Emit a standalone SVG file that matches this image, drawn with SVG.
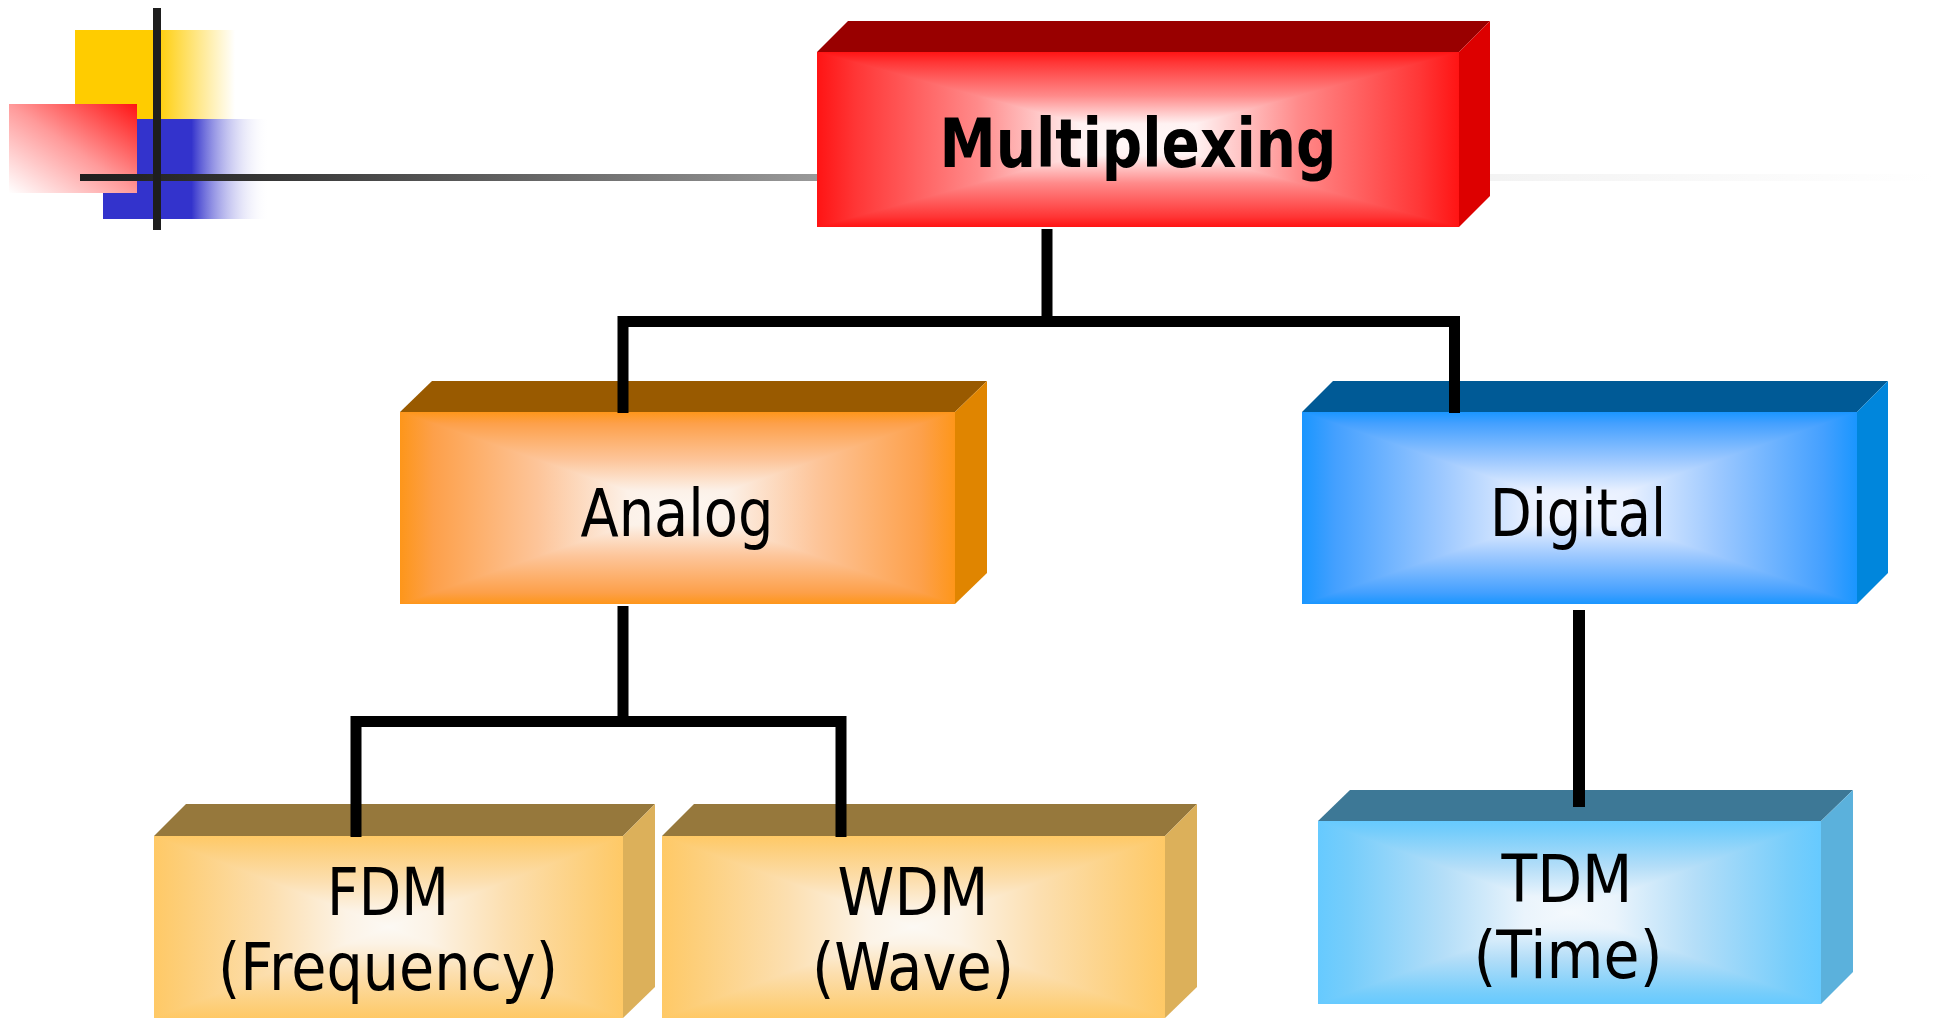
<svg xmlns="http://www.w3.org/2000/svg" xmlns:xlink="http://www.w3.org/1999/xlink" width="1935" height="1024" viewBox="0 0 1935 1024">
<style>
.lbl{font-family:"DejaVu Sans","Verdana",sans-serif;font-size:65px;fill:#000;text-anchor:middle}
.bold{font-weight:bold;font-size:68px}
.con{fill:none;stroke:#000;stroke-width:11;stroke-linejoin:miter;stroke-linecap:butt}
.tri{shape-rendering:crispEdges}
</style>
<defs>
<linearGradient id="gRed"><stop offset="0" stop-color="#FF1414"/><stop offset="0.12" stop-color="#FF3636"/><stop offset="0.5" stop-color="#FF8A8A"/><stop offset="0.82" stop-color="#FFF2F2"/><stop offset="1" stop-color="#FFF8F8"/></linearGradient>
<linearGradient id="gOra"><stop offset="0" stop-color="#FE961A"/><stop offset="0.12" stop-color="#FDA04A"/><stop offset="0.5" stop-color="#FDC59A"/><stop offset="0.82" stop-color="#FCF1E8"/><stop offset="1" stop-color="#FDF7F2"/></linearGradient>
<linearGradient id="gBlu"><stop offset="0" stop-color="#1A96FF"/><stop offset="0.12" stop-color="#44A0FF"/><stop offset="0.5" stop-color="#9CC8FF"/><stop offset="0.82" stop-color="#E8F0FF"/><stop offset="1" stop-color="#F2F6FF"/></linearGradient>
<linearGradient id="gYel"><stop offset="0" stop-color="#FFC966"/><stop offset="0.12" stop-color="#FDCE78"/><stop offset="0.5" stop-color="#FCDFB0"/><stop offset="0.82" stop-color="#FCF3E6"/><stop offset="1" stop-color="#FCF9F4"/></linearGradient>
<linearGradient id="gLbl"><stop offset="0" stop-color="#66CAFF"/><stop offset="0.12" stop-color="#76CDFB"/><stop offset="0.5" stop-color="#B4DEF8"/><stop offset="0.82" stop-color="#EAF4FC"/><stop offset="1" stop-color="#F4F9FD"/></linearGradient>

<linearGradient id="gRed-t" href="#gRed" xlink:href="#gRed" x1="0" y1="0" x2="0" y2="1"/>
<linearGradient id="gRed-b" href="#gRed" xlink:href="#gRed" x1="0" y1="1" x2="0" y2="0"/>
<linearGradient id="gRed-l" href="#gRed" xlink:href="#gRed" x1="0" y1="0" x2="1" y2="0"/>
<linearGradient id="gRed-r" href="#gRed" xlink:href="#gRed" x1="1" y1="0" x2="0" y2="0"/>
<linearGradient id="gOra-t" href="#gOra" xlink:href="#gOra" x1="0" y1="0" x2="0" y2="1"/>
<linearGradient id="gOra-b" href="#gOra" xlink:href="#gOra" x1="0" y1="1" x2="0" y2="0"/>
<linearGradient id="gOra-l" href="#gOra" xlink:href="#gOra" x1="0" y1="0" x2="1" y2="0"/>
<linearGradient id="gOra-r" href="#gOra" xlink:href="#gOra" x1="1" y1="0" x2="0" y2="0"/>
<linearGradient id="gBlu-t" href="#gBlu" xlink:href="#gBlu" x1="0" y1="0" x2="0" y2="1"/>
<linearGradient id="gBlu-b" href="#gBlu" xlink:href="#gBlu" x1="0" y1="1" x2="0" y2="0"/>
<linearGradient id="gBlu-l" href="#gBlu" xlink:href="#gBlu" x1="0" y1="0" x2="1" y2="0"/>
<linearGradient id="gBlu-r" href="#gBlu" xlink:href="#gBlu" x1="1" y1="0" x2="0" y2="0"/>
<linearGradient id="gYel-t" href="#gYel" xlink:href="#gYel" x1="0" y1="0" x2="0" y2="1"/>
<linearGradient id="gYel-b" href="#gYel" xlink:href="#gYel" x1="0" y1="1" x2="0" y2="0"/>
<linearGradient id="gYel-l" href="#gYel" xlink:href="#gYel" x1="0" y1="0" x2="1" y2="0"/>
<linearGradient id="gYel-r" href="#gYel" xlink:href="#gYel" x1="1" y1="0" x2="0" y2="0"/>
<linearGradient id="gLbl-t" href="#gLbl" xlink:href="#gLbl" x1="0" y1="0" x2="0" y2="1"/>
<linearGradient id="gLbl-b" href="#gLbl" xlink:href="#gLbl" x1="0" y1="1" x2="0" y2="0"/>
<linearGradient id="gLbl-l" href="#gLbl" xlink:href="#gLbl" x1="0" y1="0" x2="1" y2="0"/>
<linearGradient id="gLbl-r" href="#gLbl" xlink:href="#gLbl" x1="1" y1="0" x2="0" y2="0"/>

<linearGradient id="decoYel" x1="0" y1="0" x2="1" y2="0"><stop offset="0.5" stop-color="#FFCC00"/><stop offset="1" stop-color="#FFFFFF"/></linearGradient>
<linearGradient id="decoBlu" x1="0" y1="0" x2="1" y2="0"><stop offset="0.53" stop-color="#3333CC"/><stop offset="1" stop-color="#FFFFFF" stop-opacity="0"/></linearGradient>
<linearGradient id="decoRed" x1="1" y1="0" x2="0" y2="1"><stop offset="0" stop-color="#FF1414"/><stop offset="0.5" stop-color="#FF9A9A"/><stop offset="1" stop-color="#FFFFFF"/></linearGradient>
<linearGradient id="decoLine" gradientUnits="userSpaceOnUse" x1="80" y1="0" x2="1935" y2="0"><stop offset="0" stop-color="#1E1E1E"/><stop offset="0.092" stop-color="#333333"/><stop offset="0.397" stop-color="#999999"/><stop offset="0.666" stop-color="#EEEEEE"/><stop offset="1" stop-color="#FFFFFF"/></linearGradient>
</defs>
<rect width="1935" height="1024" fill="#FFFFFF"/>

<g id="decoration">
<rect x="75" y="30" width="160" height="89" fill="url(#decoYel)"/>
<rect x="103" y="119" width="167" height="100" fill="url(#decoBlu)"/>
<rect x="9" y="104" width="128" height="89" fill="url(#decoRed)"/>
<rect x="80" y="174" width="1855" height="7" fill="url(#decoLine)"/>
<rect x="153" y="8" width="8" height="222" fill="#1E1E1E"/>
</g>

<g id="node-multiplexing">
<polygon points="817,52 848,21 1490,21 1459,52" fill="#990000"/>
<polygon points="1459,52 1490,21 1490,196 1459,227" fill="#DD0000"/>
<rect x="817" y="52" width="642" height="175" fill="#FF9A9A"/>
<polygon class="tri" points="817,52 1459,52 1138,139.5" fill="url(#gRed-t)"/>
<polygon class="tri" points="817,227 1459,227 1138,139.5" fill="url(#gRed-b)"/>
<polygon class="tri" points="817,52 817,227 1138,139.5" fill="url(#gRed-l)"/>
<polygon class="tri" points="1459,52 1459,227 1138,139.5" fill="url(#gRed-r)"/>
<text class="lbl bold" x="1138" y="167" textLength="397" lengthAdjust="spacingAndGlyphs">Multiplexing</text>
</g>

<g id="node-analog">
<polygon points="400,412 432,381 987,381 955,412" fill="#995A00"/>
<polygon points="955,412 987,381 987,573 955,604" fill="#E08500"/>
<rect x="400" y="412" width="555" height="192" fill="#FDC59A"/>
<polygon class="tri" points="400,412 955,412 677.5,508" fill="url(#gOra-t)"/>
<polygon class="tri" points="400,604 955,604 677.5,508" fill="url(#gOra-b)"/>
<polygon class="tri" points="400,412 400,604 677.5,508" fill="url(#gOra-l)"/>
<polygon class="tri" points="955,412 955,604 677.5,508" fill="url(#gOra-r)"/>
<text class="lbl" x="677" y="536" textLength="193" lengthAdjust="spacingAndGlyphs">Analog</text>
</g>

<g id="node-digital">
<polygon points="1302,412 1333,381 1888,381 1857,412" fill="#005A96"/>
<polygon points="1857,412 1888,381 1888,573 1857,604" fill="#0086DC"/>
<rect x="1302" y="412" width="555" height="192" fill="#9CC8FF"/>
<polygon class="tri" points="1302,412 1857,412 1579.5,508" fill="url(#gBlu-t)"/>
<polygon class="tri" points="1302,604 1857,604 1579.5,508" fill="url(#gBlu-b)"/>
<polygon class="tri" points="1302,412 1302,604 1579.5,508" fill="url(#gBlu-l)"/>
<polygon class="tri" points="1857,412 1857,604 1579.5,508" fill="url(#gBlu-r)"/>
<text class="lbl" x="1578" y="536" textLength="176" lengthAdjust="spacingAndGlyphs">Digital</text>
</g>

<g id="node-fdm">
<polygon points="154,836 186,804 655,804 623,836" fill="#96783C"/>
<polygon points="623,836 655,804 655,987 623,1018" fill="#DCB05A"/>
<rect x="154" y="836" width="469" height="182" fill="#FCDFB0"/>
<polygon class="tri" points="154,836 623,836 388.5,927" fill="url(#gYel-t)"/>
<polygon class="tri" points="154,1018 623,1018 388.5,927" fill="url(#gYel-b)"/>
<polygon class="tri" points="154,836 154,1018 388.5,927" fill="url(#gYel-l)"/>
<polygon class="tri" points="623,836 623,1018 388.5,927" fill="url(#gYel-r)"/>
<text class="lbl" x="388" y="915" textLength="122" lengthAdjust="spacingAndGlyphs">FDM</text>
<text class="lbl" x="388" y="990" textLength="340" lengthAdjust="spacingAndGlyphs">(Frequency)</text>
</g>

<g id="node-wdm">
<polygon points="662,836 694,804 1197,804 1165,836" fill="#96783C"/>
<polygon points="1165,836 1197,804 1197,987 1165,1018" fill="#DCB05A"/>
<rect x="662" y="836" width="503" height="182" fill="#FCDFB0"/>
<polygon class="tri" points="662,836 1165,836 913.5,927" fill="url(#gYel-t)"/>
<polygon class="tri" points="662,1018 1165,1018 913.5,927" fill="url(#gYel-b)"/>
<polygon class="tri" points="662,836 662,1018 913.5,927" fill="url(#gYel-l)"/>
<polygon class="tri" points="1165,836 1165,1018 913.5,927" fill="url(#gYel-r)"/>
<text class="lbl" x="913" y="915" textLength="151" lengthAdjust="spacingAndGlyphs">WDM</text>
<text class="lbl" x="913" y="990" textLength="202" lengthAdjust="spacingAndGlyphs">(Wave)</text>
</g>

<g id="node-tdm">
<polygon points="1318,821 1350,790 1853,790 1821,821" fill="#3D7896"/>
<polygon points="1821,821 1853,790 1853,972 1821,1004" fill="#5BB1DC"/>
<rect x="1318" y="821" width="503" height="183" fill="#B4DEF8"/>
<polygon class="tri" points="1318,821 1821,821 1569.5,912.5" fill="url(#gLbl-t)"/>
<polygon class="tri" points="1318,1004 1821,1004 1569.5,912.5" fill="url(#gLbl-b)"/>
<polygon class="tri" points="1318,821 1318,1004 1569.5,912.5" fill="url(#gLbl-l)"/>
<polygon class="tri" points="1821,821 1821,1004 1569.5,912.5" fill="url(#gLbl-r)"/>
<text class="lbl" x="1567" y="902" textLength="131" lengthAdjust="spacingAndGlyphs">TDM</text>
<text class="lbl" x="1568" y="978" textLength="189" lengthAdjust="spacingAndGlyphs">(Time)</text>
</g>

<g id="connectors">
<path class="con" d="M1047,229 V321.5"/>
<path class="con" d="M623,413 V321.5 H1454.5 V413"/>
<path class="con" d="M623,606 V721.5"/>
<path class="con" d="M356,837 V721.5 H841 V837"/>
<path class="con" d="M1579,610 V807" style="stroke-width:12"/>
</g>
</svg>
